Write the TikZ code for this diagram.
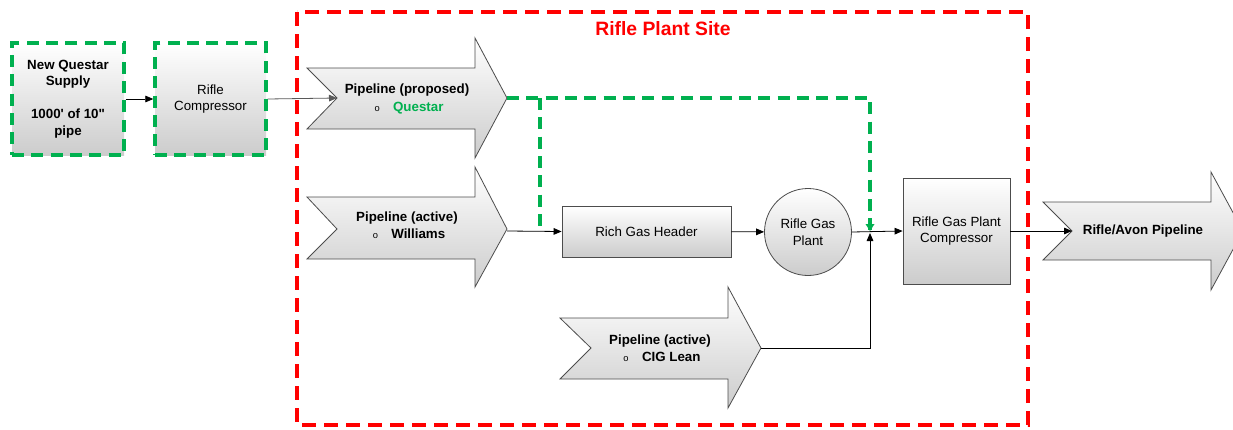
\documentclass[tikz,border=0pt]{standalone}
\usepackage{fontspec}
\setmainfont{Liberation Sans}[Ligatures=TeXOff]
\definecolor{siteRed}{rgb}{1, 0, 0}
\definecolor{newGreen}{rgb}{0, 0.69, 0.31}
\usetikzlibrary{arrows.meta}
\newcommand{\bulmark}{{\fontsize{7}{8}\selectfont o}\hspace{10pt}}
\tikzset{
	txt/.style={font=\fontsize{10}{12.5}\selectfont, align=center, inner sep=0pt},
	unit/.style={draw=gray!60!black, line width=0.6pt, top color=white, bottom color=gray!40, txt},
	greenbox/.style={unit, draw=newGreen, line width=2.6pt, dash pattern={on 9pt off 5.5pt}},
	pipe/.style={draw=gray!60!black, line width=0.6pt, top color=white, bottom color=gray!40},
	flow/.style={line width=0.6pt, -{Triangle[length=6pt,width=5pt]}},
	greenflow/.style={draw=newGreen, line width=2.4pt, dash pattern={on 9pt off 5.5pt}}
}
\begin{document}
\begin{tikzpicture}[x=0.75pt,y=0.75pt,yscale=-1,xscale=1]
	\useasboundingbox (0,0) rectangle (1233,429);
	
	%Shape: Site boundary
	\draw [draw=siteRed, line width=2.4pt, dash pattern={on 10.5pt off 6pt}] (297,12) rectangle (1028,425);
	% Text Node
	\node [txt, text=siteRed, font=\fontsize{14.5}{16}\selectfont\bfseries] (site) at (663,29) {Rifle Plant Site};
	
	%Shape: Questar supply and compressor
	\node [greenbox, minimum width=84pt, minimum height=84pt] (supply) at (68,99) {\textbf{New Questar}\\\textbf{Supply}\\[12pt]\textbf{1000' of 10"}\\\textbf{pipe}};
	\node [greenbox, minimum width=83.25pt, minimum height=84pt] (rcomp) at (210.5,99) {Rifle\\Compressor};
	
	%Shape: Pipeline (proposed)
	\draw [pipe] (307,68) -- (475,68) -- (475,38) -- (507,98) -- (475,158) -- (475,129) -- (307,129) -- (337,98) -- cycle;
	\coordinate (propN) at (337,98);
	\coordinate (propT) at (507,98);
	\node [txt, font=\fontsize{10}{12.5}\selectfont\bfseries] (propA) at (407,90) {Pipeline (proposed)};
	\node [txt] (propB) at (409,108) {\bulmark\textcolor{newGreen}{\textbf{Questar}}};
	
	%Shape: Pipeline (active) Williams
	\draw [pipe] (307,197) -- (475,197) -- (475,167) -- (507,229) -- (475,287) -- (475,259) -- (307,259) -- (337,229) -- cycle;
	\coordinate (willN) at (337,229);
	\coordinate (willT) at (507,231);
	\node [txt, font=\fontsize{10}{12.5}\selectfont\bfseries] (willA) at (407,218) {Pipeline (active)};
	\node [txt] (willB) at (409,234) {\bulmark\textbf{Williams}};
	
	%Shape: Pipeline (active) CIG Lean
	\draw [pipe] (560,318) -- (728,318) -- (728,287) -- (761,348) -- (728,408) -- (728,379) -- (560,379) -- (591,348) -- cycle;
	\coordinate (cigT) at (761,348);
	\node [txt, font=\fontsize{10}{12.5}\selectfont\bfseries] (cigA) at (660,341) {Pipeline (active)};
	\node [txt] (cigB) at (662,357) {\bulmark\textbf{CIG Lean}};
	
	%Shape: Rifle/Avon Pipeline
	\draw [pipe] (1043,202) -- (1211,202) -- (1211,172) -- (1243,231) -- (1211,290) -- (1211,260) -- (1043,260) -- (1072,231) -- cycle;
	\coordinate (avonN) at (1072,231);
	\node [txt, font=\fontsize{10}{12.5}\selectfont\bfseries] (avon) at (1143,231) {Rifle/Avon Pipeline};
	
	%Shape: plant units
	\node [unit, minimum width=126.75pt, minimum height=38.25pt] (header) at (646.5,231.5) {Rich Gas Header};
	\node [unit, circle, minimum size=65.25pt] (plant) at (808,232) {Rifle Gas\\Plant};
	\node [unit, minimum width=80.25pt, minimum height=79.5pt] (pcomp) at (956.5,231) {Rifle Gas Plant\\Compressor};
	\coordinate (jn) at (870,231);
	\coordinate (gsplit) at (540,98);
	\coordinate (wsplit) at (540,231);
	
	%Connectors
	\draw [flow] (supply) -- (rcomp);
	\draw [flow, draw=gray!70!black] (rcomp.east) -- (propN);
	\draw [flow] (willT) -- (header.west);
	\draw [flow] (header) -- (plant);
	\draw [flow] (plant.east) -- (pcomp.west);
	\draw [flow, shorten >=1.5pt] (cigT) -- (870,348) -- (jn);
	\draw [flow] (pcomp.east) -- (avonN);
	%Green dashed (proposed supply)
	\draw [greenflow] (propT) -- (870,98) -- (jn);
	\draw [greenflow] (gsplit) -- (wsplit);
	\fill [newGreen] (865.5,224) -- (874.5,224) -- (jn) -- cycle;
	
\end{tikzpicture}
\end{document}
